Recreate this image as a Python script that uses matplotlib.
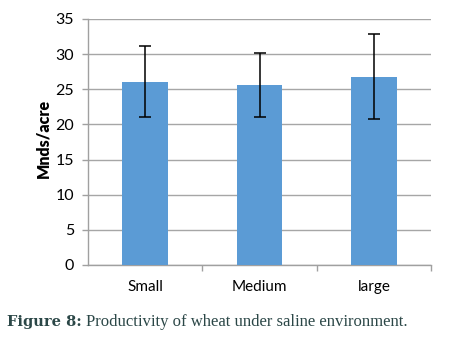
import matplotlib
matplotlib.use("Agg")
import matplotlib.pyplot as plt

categories = ["Small", "Medium", "large"]
values = [26.1, 25.6, 26.8]
errors = [5.0, 4.6, 6.05]
yticks = [0, 5, 10, 15, 20, 25, 30, 35]

fig = plt.figure(figsize=(4.49, 3.38), dpi=100)
ax = fig.add_axes([88/449, 1 - 265/338, (431-88)/449, (265-19)/338])

x = list(range(len(categories)))
ax.bar(x, values, width=0.4, color="#5B9BD5", zorder=3)
ax.errorbar(x, values, yerr=errors, fmt="none", ecolor="black",
            elinewidth=1.1, capsize=4.5, capthick=1.1, zorder=4)

ax.set_xlim(-0.5, 2.5)
ax.set_ylim(0, 35)
ax.set_yticks(yticks)
ax.set_yticklabels([str(t) for t in yticks], fontfamily="Lato", fontsize=11.5)
ax.set_xticks(x)
ax.set_xticklabels(categories, fontfamily="Lato", fontsize=11)
ax.tick_params(axis="x", length=0, pad=11)
ax.set_xticks([0.5, 1.5, 2.5], minor=True)
ax.tick_params(axis="x", which="minor", length=4, color="#a0a0a0", width=1)
ax.tick_params(axis="y", length=4, color="#a0a0a0", width=1, pad=6)

ax.grid(axis="y", color="#a6a6a6", linewidth=1, zorder=0)
for s in ["top", "right"]:
    ax.spines[s].set_visible(False)
for s in ["left", "bottom"]:
    ax.spines[s].set_color("#a0a0a0")
    ax.spines[s].set_linewidth(1)

fig.text(43/449, 1 - 138/338, "Mnds/acre", rotation=90, ha="center", va="center",
         fontfamily="Lato", fontweight="heavy", fontsize=11.5)

cap_y = 1 - 322/338
t1 = fig.text(7/449, cap_y, "Figure 8:", ha="left", va="center",
              fontfamily="DejaVu Serif", fontweight="bold", fontsize=10.5, color="#2b4747")
fig.canvas.draw()
bb = t1.get_window_extent()
fig.text(bb.x1/449 + 4/449, cap_y, "Productivity of wheat under saline environment.",
         ha="left", va="center", fontfamily="Liberation Serif", fontsize=12, color="#2b4747")

fig.savefig("out.png", dpi=100)
